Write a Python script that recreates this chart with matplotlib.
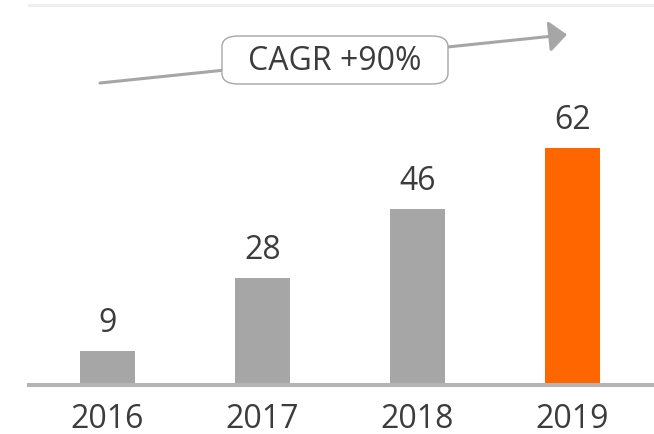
import matplotlib
matplotlib.use("Agg")
import matplotlib.pyplot as plt
from matplotlib.patches import FancyBboxPatch, FancyArrowPatch

plt.rcParams['font.family'] = ['Open Sans', 'DejaVu Sans']

years = ["2016", "2017", "2018", "2019"]
values = [9, 28, 46, 62]
colors = ["#a6a6a6", "#a6a6a6", "#a6a6a6", "#ff6600"]
cagr_label = "CAGR +90%"

W, H = 654, 435
fig = plt.figure(figsize=(W / 100, H / 100), dpi=100)

def fx(px):
    return px / W

def fy(py):
    return 1 - py / H

ax_left, ax_bottom_px, ax_top_px = 29, 386, 6
ax = fig.add_axes([fx(ax_left), fy(ax_bottom_px), 1 - fx(ax_left), (ax_bottom_px - ax_top_px) / H])

x = list(range(len(years)))
ax.bar(x, values, width=0.36, color=colors, zorder=1)

px_per_unit = (386 - 149) / 62
ax.set_ylim(0, (ax_bottom_px - ax_top_px) / px_per_unit)
ax.set_xlim((ax_left - 107.5) / 155, (W - 107.5) / 155)

txt_color = '#3c3c3c'
for xi, v in zip(x, values):
    ax.annotate(str(v), (xi, v), xytext=(0, 14.4), textcoords='offset points',
                ha='center', va='baseline', fontsize=23, color=txt_color)

ax.set_xticks(x)
ax.set_xticklabels(years, fontsize=23, color=txt_color)
ax.tick_params(axis='x', length=0, pad=12.5)
ax.set_yticks([])

for s in ['left', 'right']:
    ax.spines[s].set_visible(False)
ax.spines['bottom'].set_color('#b4b4b4')
ax.spines['bottom'].set_linewidth(2.9)
ax.spines['bottom'].set_zorder(3)
ax.spines['top'].set_color('#efefef')
ax.spines['top'].set_linewidth(2.2)

# CAGR arrow
arrow = FancyArrowPatch((fx(100), fy(84)), (fx(567), fy(35.6)), transform=fig.transFigure,
                        arrowstyle='-|>,head_length=10.8,head_width=9.4', mutation_scale=1,
                        color='#a6a6a6', lw=2.2, shrinkA=0, shrinkB=0, zorder=4)
fig.add_artist(arrow)

box = FancyBboxPatch((fx(222), fy(85)), fx(448) - fx(222), fy(37) - fy(85),
                     boxstyle='round,pad=0,rounding_size=0.025', transform=fig.transFigure,
                     facecolor='white', edgecolor='#a6a6a6', lw=1.0, zorder=5)
fig.add_artist(box)
fig.text(fx(335), fy(61), cagr_label, ha='center', va='center', fontsize=23,
         color=txt_color, zorder=6)

fig.savefig('out.png', dpi=100)
